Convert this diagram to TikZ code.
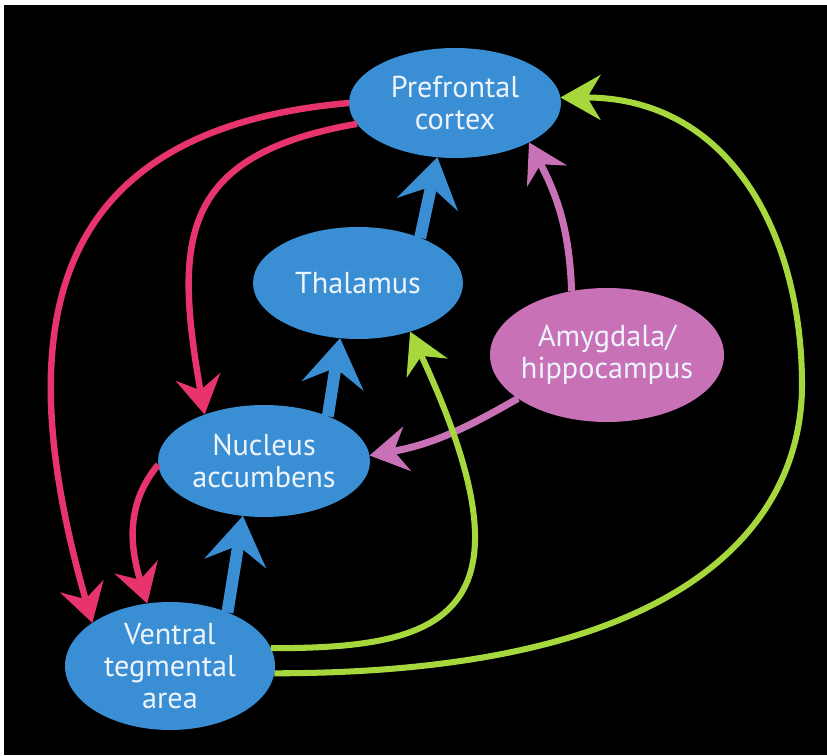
\documentclass[tikz,border=0pt]{standalone}
\usepackage{fontspec}
\setmainfont{PT Sans}
\usetikzlibrary{shapes.geometric,arrows.meta}
\definecolor{areablue}{RGB}{58,142,212}
\definecolor{amypink}{RGB}{200,113,183}
\definecolor{pathred}{RGB}{232,52,108}
\definecolor{pathgreen}{RGB}{166,216,62}
\definecolor{labeltext}{RGB}{238,244,252}

\begin{document}
\begin{tikzpicture}[thick,
	area/.style={ellipse,fill=areablue,inner sep=-0.4cm,outer sep=0pt,text=labeltext,align=center,font=\fontsize{21.5}{23}\selectfont},
	bluepath/.style={areablue,line width=8.5pt,-{Stealth[length=1.2cm,width=1.55cm,inset=0.45cm]}},
	redpath/.style={pathred,line width=4.6pt,-{Stealth[length=0.95cm,width=1.12cm,inset=0.33cm]}},
	pinkpath/.style={amypink,line width=5pt,-{Stealth[length=0.95cm,width=1.12cm,inset=0.33cm]}},
	greenpath/.style={pathgreen,line width=4.3pt,-{Stealth[length=1cm,width=1.12cm,inset=0.33cm]}}]
	\fill[white] (0,0) rectangle (20.675,18.875);
	\fill[black] (0.1,0) rectangle (20.675,18.75);

	\node[area,minimum width=5.3cm,minimum height=2.75cm] (PFC) at (11.375,16.3) {Prefrontal\\cortex};
	\node[area,minimum width=5.25cm,minimum height=2.8cm] (Thal) at (8.95,11.8) {Thalamus};
	\node[area,fill=amypink,minimum width=5.85cm,minimum height=3.35cm] (Amy) at (15.175,10) {Amygdala/\\hippocampus};
	\node[area,minimum width=5.3cm,minimum height=2.8cm] (NAc) at (6.6,7.35) {Nucleus\\accumbens};
	\node[area,minimum width=5.25cm,minimum height=3.2cm] (VTA) at (4.25,2.225) {Ventral\\tegmental\\area};
	\coordinate (GR) at (20.05,9.25);

	\draw[bluepath] (Thal.36) -- (PFC.-108);
	\draw[bluepath] (NAc.35) -- (Thal.-108);
	\draw[bluepath] (VTA.43) -- (NAc.-111);

	\draw[pinkpath] (Amy.119) to[out=92,in=-62] (PFC.-28);
	\draw[pinkpath] (Amy.-154) to[out=-150,in=10] (NAc.3);

	\draw[redpath] (PFC.180) to[out=185,in=106,looseness=1.35] (VTA.151);
	\draw[redpath] (PFC.-168) to[out=190,in=100,looseness=1.4] (NAc.142);
	\draw[redpath] (NAc.-178) to[out=-130,in=107] (VTA.110);

	\draw[greenpath] (VTA.10) .. controls +(4.2,0) and +(-65:8) .. (Thal.-43);
	\draw[greenpath] (VTA.-4) .. controls +(11.125,0) and +(0,-2.875) .. (GR) .. controls +(0,3.75) and +(4.25,0) .. (PFC.3);
\end{tikzpicture}
\end{document}
